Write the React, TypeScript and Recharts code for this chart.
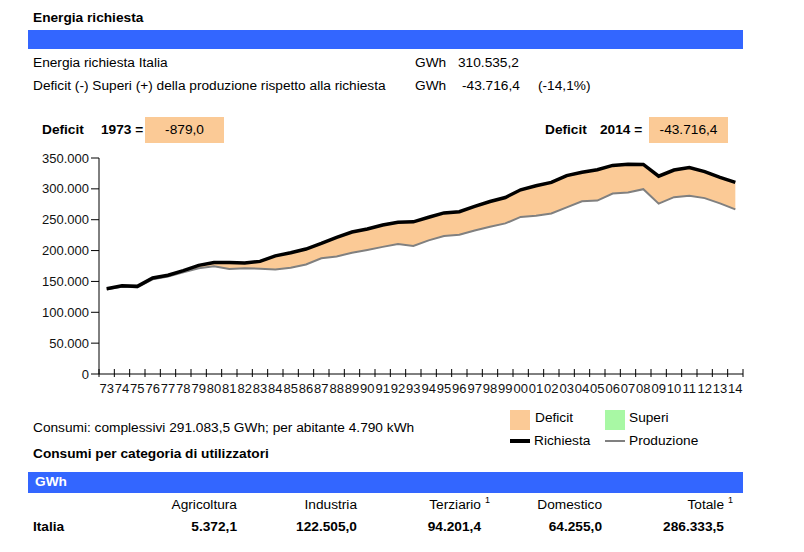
import { ComposedChart, Area, Line, XAxis, YAxis } from 'recharts'

const YEARS = [
  '73', '74', '75', '76', '77', '78', '79', '80', '81', '82', '83', '84', '85', '86',
  '87', '88', '89', '90', '91', '92', '93', '94', '95', '96', '97', '98', '99', '00',
  '01', '02', '03', '04', '05', '06', '07', '08', '09', '10', '11', '12', '13', '14',
]

// GWh
const RICHIESTA = [
  138000, 143000, 142000, 155500, 160000, 167500, 176000, 180500, 180500, 180000, 182500, 191500, 196500, 202500,
  211500, 221500, 230000, 235000, 241500, 246000, 246500, 254000, 261000, 263000, 271500, 279500, 286000, 298500,
  305000, 310500, 321500, 327000, 331000, 338000, 340000, 339500, 320500, 330500, 334500, 328000, 318500, 310535,
]

const PRODUZIONE = [
  137121, 141500, 140500, 153500, 158000, 165000, 171500, 174500, 170000, 171500, 170500, 169500, 172000, 177500,
  187500, 190500, 196500, 201000, 206000, 210500, 207500, 216500, 223500, 225500, 232500, 238500, 244000, 254500,
  256500, 260000, 270000, 280000, 281000, 292500, 294000, 299500, 276000, 286500, 289000, 285000, 276500, 266819,
]

const Y_TICKS = [0, 50000, 100000, 150000, 200000, 250000, 300000, 350000]

const CATEGORIE = ['Agricoltura', 'Industria', 'Terziario', 'Domestico', 'Totale']
const CATEGORIE_NOTA = [false, false, true, false, true]
const ITALIA = ['5.372,1', '122.505,0', '94.201,4', '64.255,0', '286.333,5']
const COL_END = [237, 357, 481, 602, 724]

const BLUE = '#3366ff'
const PEACH = '#fbca96'
const GREEN = '#a8f8a4'
const FONT = '"Liberation Sans", Arial, sans-serif'

const chartData = YEARS.map((year, i) => ({
  i,
  year,
  richiesta: RICHIESTA[i],
  produzione: PRODUZIONE[i],
  deficit: [PRODUZIONE[i], RICHIESTA[i]],
}))

const X_TICKS = YEARS.flatMap((_, i) => [i - 0.5, i]).concat(YEARS.length - 0.5)

const fmt = (v: number) => String(v).replace(/\B(?=(\d{3})+(?!\d))/g, '.')

function YearTick({ x, y, payload }: any) {
  const v = payload.value
  if (Number.isInteger(v)) {
    return <text x={x} y={y + 19} textAnchor="middle" fontSize={13} fill="#111" fontFamily={FONT}>{YEARS[v]}</text>
  }
  return <line x1={x} x2={x} y1={y - 5} y2={y + 3} stroke="#000" strokeWidth={1} />
}

const abs = (left: number, top: number, extra: any = {}) => ({ position: 'absolute' as const, left, top, lineHeight: '16px', whiteSpace: 'nowrap' as const, ...extra })

export default function App() {
  return (
    <div style={{ position: 'relative', width: 804, height: 552, fontFamily: FONT, fontSize: 13.7, color: '#000', background: '#fff' }}>
      <style>{'body{margin:0}'}</style>

      <div style={abs(33, 10, { fontWeight: 'bold' })}>Energia richiesta</div>
      <div style={{ position: 'absolute', left: 28, top: 30, width: 715, height: 19, background: BLUE }} />

      <div style={abs(33, 55)}>Energia richiesta Italia</div>
      <div style={abs(415, 55)}>GWh</div>
      <div style={abs(458, 55)}>310.535,2</div>
      <div style={abs(33, 78)}>Deficit (-) Superi (+) della produzione rispetto alla richiesta</div>
      <div style={abs(415, 78)}>GWh</div>
      <div style={abs(462, 78)}>-43.716,4</div>
      <div style={abs(538, 78)}>(-14,1%)</div>

      <div style={abs(42, 122, { fontWeight: 'bold' })}>Deficit</div>
      <div style={abs(101, 122, { fontWeight: 'bold' })}>1973 =</div>
      <div style={{ position: 'absolute', left: 145, top: 117, width: 79, height: 26, background: PEACH, textAlign: 'center', lineHeight: '26px' }}>-879,0</div>
      <div style={abs(545, 122, { fontWeight: 'bold' })}>Deficit</div>
      <div style={abs(600, 122, { fontWeight: 'bold' })}>2014 =</div>
      <div style={{ position: 'absolute', left: 649, top: 117, width: 79, height: 26, background: PEACH, textAlign: 'center', lineHeight: '26px' }}>-43.716,4</div>

      <div style={{ position: 'absolute', left: 0, top: 150 }}>
        <ComposedChart width={760} height={254} data={chartData} margin={{ top: 8, right: 17, bottom: 0, left: 0 }}>
          <XAxis dataKey="i" type="number" domain={[-0.5, YEARS.length - 0.5]} ticks={X_TICKS} interval={0}
            tick={<YearTick />} tickLine={false} tickSize={0} tickMargin={0} height={30}
            axisLine={{ stroke: '#000' }} allowDecimals />
          <YAxis domain={[0, 350000]} ticks={Y_TICKS} interval={0} tickFormatter={fmt} width={99} tickSize={8}
            tick={{ fontSize: 13, fill: '#111', fontFamily: FONT }} axisLine={{ stroke: '#000' }} tickLine={{ stroke: '#000' }} />
          <Area type="linear" dataKey="deficit" fill={PEACH} fillOpacity={1} stroke="none" isAnimationActive={false} />
          <Line type="linear" dataKey="produzione" stroke="#808080" strokeWidth={2} dot={false} isAnimationActive={false} />
          <Line type="linear" dataKey="richiesta" stroke="#000" strokeWidth={3.5} dot={false} isAnimationActive={false} />
        </ComposedChart>
      </div>

      <div style={{ position: 'absolute', left: 510, top: 410, width: 20, height: 20, background: PEACH }} />
      <div style={abs(535, 410)}>Deficit</div>
      <div style={{ position: 'absolute', left: 605, top: 410, width: 20, height: 20, background: GREEN }} />
      <div style={abs(629, 410)}>Superi</div>
      <div style={{ position: 'absolute', left: 510, top: 439, width: 20, height: 4, background: '#000' }} />
      <div style={abs(534, 433)}>Richiesta</div>
      <div style={{ position: 'absolute', left: 605, top: 440, width: 20, height: 2, background: '#808080' }} />
      <div style={abs(629, 433)}>Produzione</div>

      <div style={abs(33, 420)}>Consumi: complessivi 291.083,5 GWh; per abitante 4.790 kWh</div>
      <div style={abs(33, 446, { fontWeight: 'bold' })}>Consumi per categoria di utilizzatori</div>

      <div style={{ position: 'absolute', left: 28, top: 472, width: 715, height: 21, background: BLUE }} />
      <div style={abs(35, 474, { fontWeight: 'bold', color: '#fff' })}>GWh</div>

      {CATEGORIE.map((c, k) => (
        <div key={c} style={abs(0, 497, { left: undefined, right: 804 - COL_END[k] })}>
          {c}
          {CATEGORIE_NOTA[k] && <span style={{ position: 'absolute', left: '100%', top: -5, marginLeft: 4, fontSize: 9 }}>1</span>}
        </div>
      ))}
      <div style={abs(33, 519, { fontWeight: 'bold' })}>Italia</div>
      {ITALIA.map((v, k) => (
        <div key={k} style={abs(0, 519, { left: undefined, right: 804 - COL_END[k], fontWeight: 'bold' })}>{v}</div>
      ))}
    </div>
  )
}
